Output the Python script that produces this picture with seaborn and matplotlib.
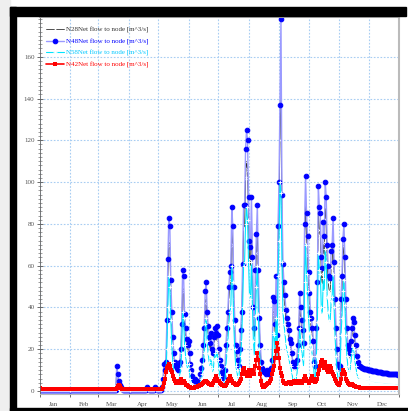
import matplotlib
matplotlib.use("Agg")
import matplotlib.pyplot as plt
import matplotlib.dates as mdates
from matplotlib.ticker import MultipleLocator
from matplotlib.patches import Rectangle
import seaborn as sns
import pandas as pd

sns.set_theme(style="white")
plt.rcParams['font.family'] = ['Liberation Serif', 'DejaVu Serif']

# daily net flow to node [m^3/s], one year
n48_active = [
    2, 6, 13, 10, 14, 34, 63, 83, 79, 53,
    38, 26, 18, 14, 12, 11, 10, 12, 14, 20,
    32, 58, 55, 37, 30, 25, 22, 24, 18, 13,
    10, 7, 6, 5, 6, 5, 4, 4, 5, 8,
    11, 15, 22, 30, 48, 52, 38, 31, 26, 23,
    28, 20, 18, 26, 30, 28, 31, 27, 20, 15,
    12, 9, 7, 6, 10, 22, 30, 38, 50, 57,
    60, 88, 79, 50, 34, 22, 19, 15, 12, 20,
    29, 38, 61, 89, 89, 116, 125, 120, 93, 72,
    69, 93, 64, 40, 30, 58, 75, 89, 58, 35,
    22, 14, 11, 10, 9, 9, 8, 10, 9, 8,
    9, 11, 15, 45, 43, 32, 55, 27, 79, 100,
    137, 178, 94, 61, 52, 46, 39, 35, 32, 29,
    25, 23, 18, 14, 12, 13, 12, 15, 22, 30,
    47, 40, 34, 29, 23, 80, 103, 85, 74, 57,
    47, 38, 35, 30, 24, 14, 12, 30, 52, 98,
    88, 85, 64, 59, 81, 74, 100, 93, 70, 60,
    55, 54, 67, 70, 83, 62, 44, 30, 20, 13,
    11, 12, 44, 55, 73, 80, 64, 44, 30, 22,
    20, 18, 24, 30, 35, 33, 27, 22, 17, 14,
    12]
n48_tail = [12, 11.5, 11.2, 11, 10.8, 10.6, 10.5, 10.4, 10.3, 10.2,
            10.1, 10, 9.9, 9.8, 9.7, 9.6, 9.5, 9.4, 9.3, 9.2,
            9.1, 9.0, 8.9, 8.8, 8.8, 8.7, 8.6, 8.6, 8.5, 8.4,
            8.4, 8.3, 8.3, 8.2, 8.2, 8.1, 8.1, 8.0, 8.0, 7.9]
n48 = ([0.5] * 78 + [12, 8, 5, 3, 2, 1] + [0.5] * 25 + [2, 1] + [0.5] * 6
       + [2, 1] + [0.5] * 5 + n48_active + n48_tail)

n28_active = [
    1.5, 5, 11, 9, 12, 29, 55, 72, 70, 47,
    33, 23, 16, 12, 10, 9.5, 9, 10, 12, 17,
    28, 50, 48, 32, 26, 22, 19, 21, 16, 11,
    8.5, 6, 5, 4.5, 5, 4.5, 3.5, 3.5, 4.5, 7,
    9.5, 13, 19, 26, 42, 45, 33, 27, 23, 20,
    24, 17, 16, 23, 26, 24, 27, 23, 17, 13,
    10, 8, 6, 5, 8.5, 19, 26, 33, 44, 50,
    53, 77, 70, 44, 30, 19, 16, 13, 10, 17,
    25, 33, 53, 78, 78, 102, 110, 106, 82, 63,
    60, 82, 56, 35, 26, 51, 66, 78, 51, 31,
    19, 12, 9.5, 8.5, 8, 8, 7, 8.5, 8, 7,
    8, 9.5, 13, 39, 37, 28, 48, 23, 69, 88,
    120, 150, 82, 53, 45, 40, 34, 30, 28, 25,
    22, 20, 16, 12, 10, 11, 10, 13, 19, 26,
    41, 35, 30, 25, 20, 70, 90, 74, 65, 50,
    41, 33, 30, 26, 21, 12, 10, 26, 45, 86,
    77, 74, 56, 51, 71, 65, 88, 82, 61, 52,
    48, 47, 59, 61, 73, 54, 38, 26, 17, 11,
    9.5, 10, 38, 48, 64, 70, 56, 38, 26, 19,
    17, 15.5, 21, 26, 30, 29, 23, 19, 15, 12.5,
    11]
n28_tail = [11, 10.6, 10.3, 10.1, 9.9, 9.7, 9.6, 9.5, 9.4, 9.3,
            9.2, 9.1, 9.0, 8.9, 8.8, 8.7, 8.6, 8.5, 8.4, 8.3,
            8.2, 8.1, 8.0, 7.9, 7.9, 7.8, 7.7, 7.7, 7.6, 7.5,
            7.5, 7.4, 7.4, 7.3, 7.3, 7.2, 7.2, 7.1, 7.1, 7.0]
n28 = ([0.4] * 78 + [10, 7, 4, 2.5, 1.5, 0.8] + [0.4] * 25 + [1.6, 0.8] + [0.4] * 6
       + [1.6, 0.8] + [0.4] * 5 + n28_active + n28_tail)

n58_active = [
    1, 3, 7, 5, 8, 20, 40, 55, 50, 34,
    22, 14, 9, 6, 5, 4, 4, 5, 7, 11,
    18, 38, 35, 22, 17, 13, 11, 13, 9, 6,
    4, 3, 2.5, 2, 2.5, 2, 2, 2, 2.5, 4,
    6, 8, 13, 18, 32, 35, 24, 18, 14, 12,
    16, 11, 9, 15, 18, 16, 19, 15, 11, 7,
    5, 4, 3, 2.5, 5, 12, 18, 24, 32, 38,
    40, 60, 52, 32, 20, 12, 10, 7, 6, 11,
    17, 24, 40, 60, 62, 80, 88, 82, 62, 46,
    44, 62, 40, 24, 17, 36, 50, 60, 37, 20,
    12, 7, 5, 4, 3.5, 3, 3, 4, 3.5, 3,
    3.5, 5, 8, 28, 27, 19, 35, 15, 55, 72,
    100, 95, 62, 38, 32, 28, 23, 20, 18, 16,
    13, 12, 9, 6, 5, 6, 5, 7, 12, 18,
    30, 25, 20, 16, 12, 52, 70, 56, 48, 35,
    28, 22, 20, 17, 13, 6, 5, 17, 33, 66,
    58, 56, 40, 37, 54, 48, 68, 62, 45, 38,
    34, 33, 43, 45, 56, 40, 26, 17, 10, 6,
    5, 6, 27, 35, 48, 53, 41, 27, 17, 12,
    10, 9, 13, 18, 21, 20, 15, 12, 9, 7,
    6]
n58_tail = [5.8, 5.6, 5.4, 5.2, 5.1, 5.0, 4.9, 4.8, 4.7, 4.6,
            4.5, 4.4, 4.3, 4.2, 4.1, 4.0, 4.0, 3.9, 3.9, 3.8,
            3.8, 3.7, 3.7, 3.6, 3.6, 3.5, 3.5, 3.4, 3.4, 3.3,
            3.3, 3.3, 3.2, 3.2, 3.2, 3.1, 3.1, 3.1, 3.0, 3.0]
n58 = ([0.4] * 78 + [3, 2, 1, 0.6, 0.5, 0.4] + [0.4] * 25 + [0.8, 0.5] + [0.4] * 6
       + [0.8, 0.5] + [0.4] * 5 + n58_active + n58_tail)

n42_active = [
    1, 2, 4, 6, 9, 11, 12, 13, 12, 10,
    9, 7, 6, 5, 4, 4, 5, 4, 5, 6,
    5, 4, 5, 4, 3, 3, 2.5, 2, 2, 1.8,
    1.6, 1.5, 1.5, 1.5, 1.8, 2, 2, 2.2, 2.5, 3,
    3, 3.5, 4, 4.5, 5, 5, 4.5, 4, 3.5, 3.5,
    3, 3, 4, 5, 6, 7, 6, 5, 5, 4,
    3.5, 3, 3, 2.5, 2.5, 3, 4, 5, 6, 7,
    6, 5, 4, 4, 3.5, 3, 3, 3.5, 4, 5,
    6, 8, 10, 11, 9, 8, 7, 8, 10, 9,
    7, 8, 10, 9, 8, 12, 15, 18, 15, 11,
    8, 5, 3, 2, 2, 2.5, 3, 3.5, 4, 4,
    5, 6, 8, 10, 12, 16, 19, 23, 20, 16,
    11, 8.5, 7, 5, 4, 4, 3.5, 4, 4, 4.5,
    4, 3.5, 4, 4.5, 5, 4.5, 4, 4, 5, 5,
    4.5, 4, 4, 5, 6, 7, 6, 5, 5, 4,
    4, 5, 6, 7, 6, 5, 4.5, 5, 6, 8,
    10, 12, 14, 15, 13, 11, 14, 12, 10, 9,
    10, 12, 11, 9, 8, 7, 6, 5, 4, 3.5,
    3, 4, 6, 8, 10, 9, 8, 6, 5, 4,
    3.5, 3, 3, 3.5, 3, 2.5, 2.2, 2, 2, 1.8,
    1.8]
n42_tail = [1.7, 1.7, 1.6, 1.6, 1.6, 1.6, 1.5, 1.5, 1.5, 1.5,
            1.5, 1.5, 1.5, 1.5, 1.5, 1.4, 1.4, 1.4, 1.4, 1.4,
            1.4, 1.4, 1.4, 1.4, 1.4, 1.4, 1.4, 1.4, 1.4, 1.4,
            1.4, 1.4, 1.4, 1.4, 1.4, 1.4, 1.4, 1.4, 1.4, 1.4]
n42 = ([1.5] + [0.8] * 77 + [1.5, 2.5, 3, 2.5, 1.5, 1] + [0.8] * 25 + [0.8, 0.8] + [0.8] * 6
       + [0.8, 0.8] + [0.8] * 5 + n42_active + n42_tail)

dates = pd.date_range("2001-01-01", periods=len(n48), freq="D")

labels = ["N28Net flow to node [m^3/s]", "N48Net flow to node [m^3/s]",
          "N58Net flow to node [m^3/s]", "N42Net flow to node [m^3/s]"]

fig = plt.figure(figsize=(4.08, 4.11), dpi=100)
fig.patch.set_facecolor("white")
# screenshot frame
fig.patches.append(Rectangle((0, 0), 10 / 408, 1, transform=fig.transFigure, color="#efefef", zorder=0))
fig.patches.append(Rectangle((10 / 408, 0), 6 / 408, 404 / 411, transform=fig.transFigure, color="black", zorder=0))
fig.patches.append(Rectangle((10 / 408, 395 / 411), 396 / 408, 9 / 411, transform=fig.transFigure, color="black", zorder=0))
fig.patches.append(Rectangle((10 / 408, 0), 398 / 408, 3 / 411, transform=fig.transFigure, color="black", zorder=0))

ax = fig.add_axes([40 / 408, 17 / 411, 359 / 408, 377 / 411])

sns.lineplot(x=dates, y=n28, ax=ax, color="#333333", linewidth=0.6, marker="x",
             markersize=2.2, markeredgewidth=0.6, label=labels[0])
sns.lineplot(x=dates, y=n48, ax=ax, color="#9a9aff", linewidth=1.0, marker="o",
             markersize=3.3, markerfacecolor="#0000ff", markeredgecolor="#0000ff",
             label=labels[1])
sns.lineplot(x=dates, y=n58, ax=ax, color="#00e5ff", linewidth=0.8, marker="+",
             markersize=2.5, markeredgewidth=0.6, label=labels[2])
sns.lineplot(x=dates, y=n42, ax=ax, color="#ff0000", linewidth=1.2, marker="s",
             markersize=3.5, markeredgewidth=0, label=labels[3])

ax.set_xlim(pd.Timestamp("2001-01-01"), pd.Timestamp("2002-01-01"))
ax.set_ylim(-1.4, 179)
ax.set_xlabel("")
ax.set_ylabel("")

ax.yaxis.set_major_locator(MultipleLocator(20))
ax.yaxis.set_minor_locator(MultipleLocator(2))
ax.xaxis.set_major_locator(mdates.MonthLocator())
ax.xaxis.set_major_formatter(plt.NullFormatter())
ax.xaxis.set_minor_locator(mdates.MonthLocator(bymonthday=15))
ax.xaxis.set_minor_formatter(mdates.DateFormatter("%b"))

ax.tick_params(axis="y", which="major", direction="inout", length=4, width=0.6,
               labelsize=5, colors="#555555", pad=2, left=True)
ax.tick_params(axis="y", which="minor", direction="inout", length=2.5, width=0.5,
               colors="#777777", left=True)
ax.tick_params(axis="x", which="major", direction="out", length=2, width=0.6,
               colors="#555555", bottom=True)
ax.tick_params(axis="x", which="minor", length=0, labelsize=5, labelcolor="#555555", pad=5.5)

ax.grid(True, which="major", color="#a8cdf2", linestyle=(0, (1.5, 1.5)), linewidth=0.8)

for side in ["top", "right"]:
    ax.spines[side].set_color("#bbbbbb")
    ax.spines[side].set_linewidth(1.5)
ax.spines["left"].set_color("#666666")
ax.spines["left"].set_linewidth(0.6)
ax.spines["bottom"].set_color("#bbbbbb")
ax.spines["bottom"].set_linewidth(0.8)

leg = ax.legend(loc="upper left", frameon=False, fontsize=5, handlelength=2.6,
                handletextpad=0.3, labelspacing=0.75, borderaxespad=0.2,
                bbox_to_anchor=(0.005, 0.985))
for text, col in zip(leg.get_texts(), ["#333333", "#0000ff", "#00c8ff", "#ff0000"]):
    text.set_color(col)

fig.savefig("out.png", dpi=100, facecolor=fig.get_facecolor())
